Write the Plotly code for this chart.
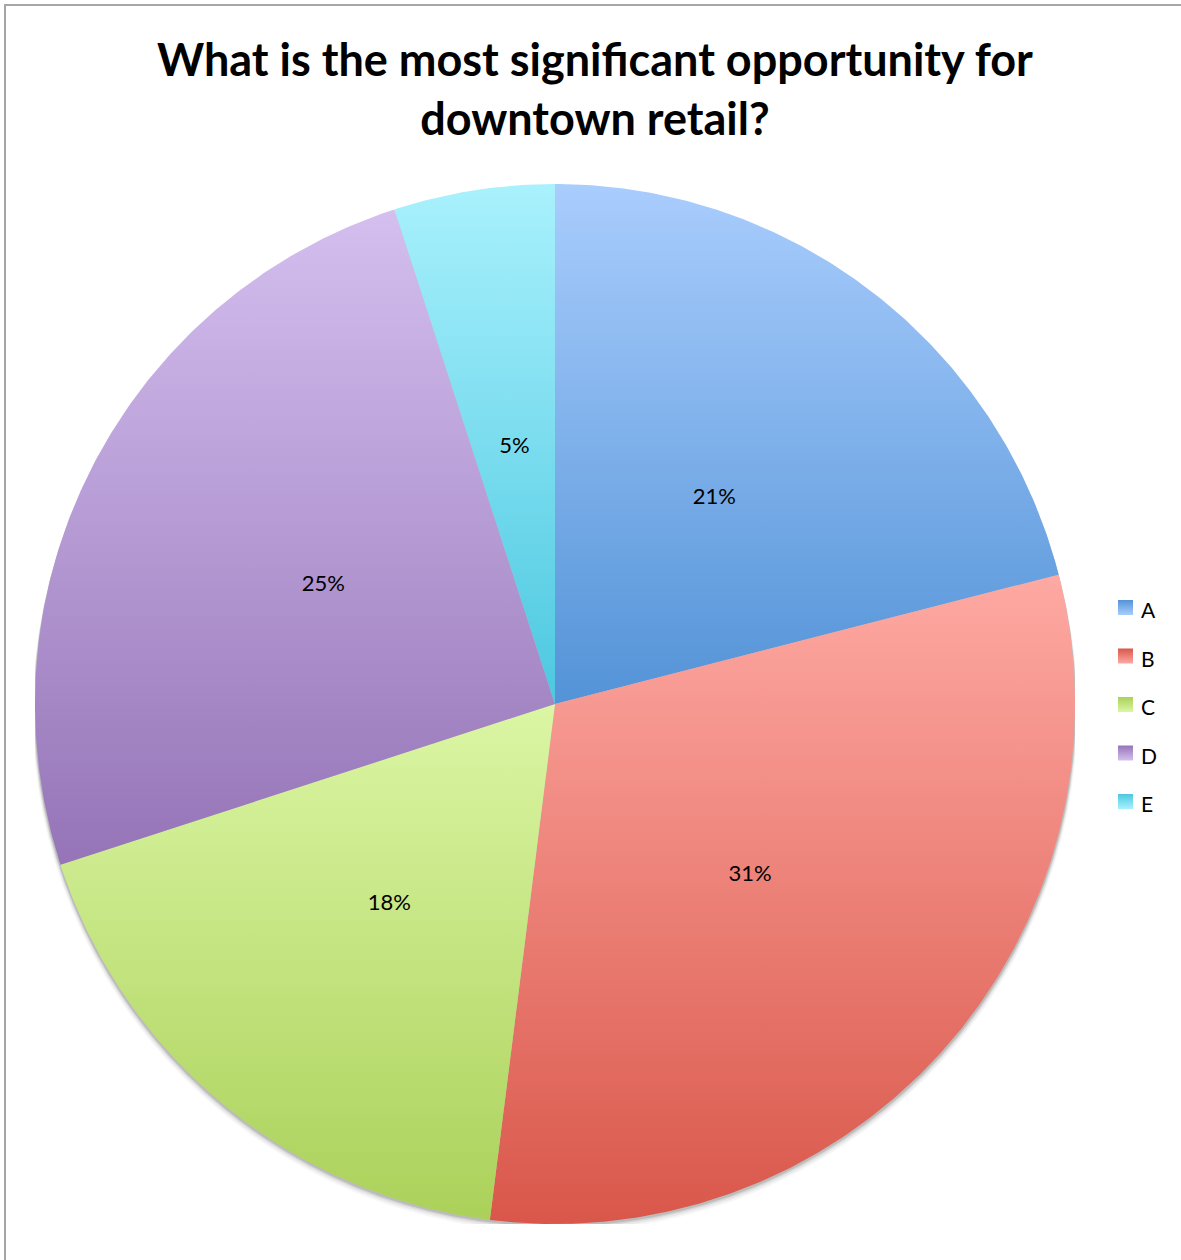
import numpy as np
import plotly.graph_objects as go

# Survey answers (share of respondents, %)
categories = ["A", "B", "C", "D", "E"]
shares = [21, 31, 18, 25, 5]

# Excel-style vertical gradients per slice: (top colour, bottom colour)
top_colors = ["#a9cdfd", "#fea9a3", "#dbf6a4", "#d4bfef", "#a9f1fd"]
bottom_colors = ["#5393d7", "#d9574a", "#abd15a", "#9574b7", "#4cc8e0"]

title_text = "What is the most significant opportunity for<br>downtown retail?"

W, H = 1181, 1260
FONT = "Lato"

# pie geometry in pixels (layout)
CX, CY, R = 555, 704, 520


def px_x(x):
    return x / W


def px_y(y):
    return 1 - y / H


fig = go.Figure()

# slices, clockwise from 12 o'clock, in a unit-circle coordinate system
total = float(sum(shares))
cum = np.concatenate([[0.0], np.cumsum(shares)]) / total
for i, (cat, val) in enumerate(zip(categories, shares)):
    a0, a1 = 2 * np.pi * cum[i], 2 * np.pi * cum[i + 1]
    n = max(int((a1 - a0) / (2 * np.pi) * 720), 8)
    th = np.linspace(a0, a1, n)
    xs = np.concatenate([[0.0], np.sin(th), [0.0]])
    ys = np.concatenate([[0.0], np.cos(th), [0.0]])
    fig.add_trace(go.Scatter(
        x=xs, y=ys, mode="lines", fill="toself",
        line=dict(width=0, color="rgba(0,0,0,0)"),
        fillgradient=dict(type="vertical",
                          colorscale=[[0, bottom_colors[i]], [1, top_colors[i]]]),
        hoverinfo="skip", showlegend=False,
        xaxis="x", yaxis="y",
    ))

# percentage labels at half radius on each slice's mid angle
mid = 2 * np.pi * (cum[:-1] + cum[1:]) / 2
fig.add_trace(go.Scatter(
    x=0.5 * np.sin(mid), y=0.5 * np.cos(mid),
    mode="text", text=[f"{v}%" for v in shares],
    textfont=dict(family=FONT, size=22, color="#000000"),
    hoverinfo="skip", showlegend=False, xaxis="x", yaxis="y",
))

# legend swatches (gradient squares) on a pixel-space overlay axis
SW_X0, SW_Y0, SW, SW_STEP = 1118, 600, 15, 48.5
for i, cat in enumerate(categories):
    y0 = SW_Y0 + i * SW_STEP
    fig.add_trace(go.Scatter(
        x=[SW_X0, SW_X0 + SW, SW_X0 + SW, SW_X0, SW_X0],
        y=[y0, y0, y0 + SW, y0 + SW, y0],
        mode="lines", fill="toself",
        line=dict(width=0, color="rgba(0,0,0,0)"),
        fillgradient=dict(type="vertical",
                          colorscale=[[0, top_colors[i]], [1, bottom_colors[i]]]),
        hoverinfo="skip", showlegend=False, xaxis="x2", yaxis="y2",
    ))
    fig.add_annotation(
        x=px_x(1139), y=px_y(y0 + SW / 2 + 2), xref="paper", yref="paper",
        text=cat, showarrow=False, xanchor="left", yanchor="middle",
        font=dict(family=FONT, size=21, color="#000000"),
    )

# soft drop shadow under the pie
shapes = []
for off, alpha in [(8, 0.035), (6, 0.05), (4, 0.08), (2.5, 0.12)]:
    d = off / R
    shapes.append(dict(
        type="circle", xref="x", yref="y", layer="below",
        x0=-1 - d * 0.3, x1=1 + d * 0.3, y0=-1 - d, y1=1 - d,
        fillcolor=f"rgba(0,0,0,{alpha})", line=dict(width=0),
    ))

# chart frame
shapes.append(dict(
    type="rect", xref="paper", yref="paper",
    x0=px_x(5), x1=1.05, y0=-0.05, y1=px_y(5),
    line=dict(color="#a6a6a6", width=2), fillcolor="rgba(0,0,0,0)",
))

fig.add_annotation(
    x=px_x(595), y=px_y(89), xref="paper", yref="paper",
    text=f"<b>{title_text}</b>", showarrow=False,
    xanchor="center", yanchor="middle",
    font=dict(family=FONT, size=45, color="#000000"),
)

axis_off = dict(showgrid=False, zeroline=False, showticklabels=False,
                showline=False, ticks="", fixedrange=True)

fig.update_layout(
    width=W, height=H,
    margin=dict(l=0, r=0, t=0, b=0),
    paper_bgcolor="white", plot_bgcolor="rgba(0,0,0,0)",
    showlegend=False,
    shapes=shapes,
    xaxis=dict(domain=[px_x(CX - R), px_x(CX + R)], range=[-1, 1], **axis_off),
    yaxis=dict(domain=[px_y(CY + R), px_y(CY - R)], range=[-1, 1], **axis_off),
    xaxis2=dict(domain=[0, 1], range=[0, W], anchor="y2", **axis_off),
    yaxis2=dict(domain=[0, 1], range=[H, 0], anchor="x2", **axis_off),
)

fig.write_html("out.html")
